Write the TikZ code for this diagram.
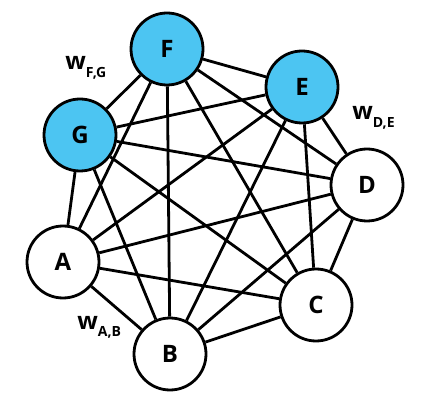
\documentclass[tikz,border=0pt]{standalone}
\usepackage{fontspec}
\setmainfont{Open Sans}
\usepackage{tikz}

\definecolor{nodeblue}{RGB}{76,197,242}
\newcommand{\wlab}[1]{w\raisebox{-0.3em}{\fontsize{14}{14}\selectfont #1}}

\begin{document}
\begin{tikzpicture}[x=1pt,y=-1pt,line width=2.8pt,
    vert/.style={circle,draw,fill=white,minimum size=72pt,inner sep=0pt,
      font=\fontsize{24}{24}\selectfont\bfseries},
    hot/.style={vert,fill=nodeblue},
    wlabel/.style={font=\fontsize{24}{24}\selectfont\bfseries,inner sep=0pt,anchor=base west}]
      \useasboundingbox (0,0) rectangle (433,411);
      \node[hot] (F) at (167,49) {F};
      \node[hot] (E) at (302,87) {E};
      \node[hot] (G) at (80,135) {G};
      \node[vert] (D) at (367,185) {D};
      \node[vert] (A) at (63,262) {A};
      \node[vert] (C) at (316,305) {C};
      \node[vert] (B) at (170,354) {B};

      \node[wlabel] (wfg) at (64,70) {\wlab{F,G}};
      \node[wlabel] (wde) at (351,120) {\wlab{D,E}};
      \node[wlabel] (wab) at (76,329) {\wlab{A,B}};

      \foreach \a/\b in {F/E,F/G,F/D,F/A,F/C,F/B,
                         E/G,E/D,E/A,E/C,E/B,
                         G/D,G/A,G/C,G/B,
                         D/A,D/C,D/B,
                         A/C,A/B,
                         C/B}
        \draw (\a) -- (\b);
    \end{tikzpicture}
\end{document}
